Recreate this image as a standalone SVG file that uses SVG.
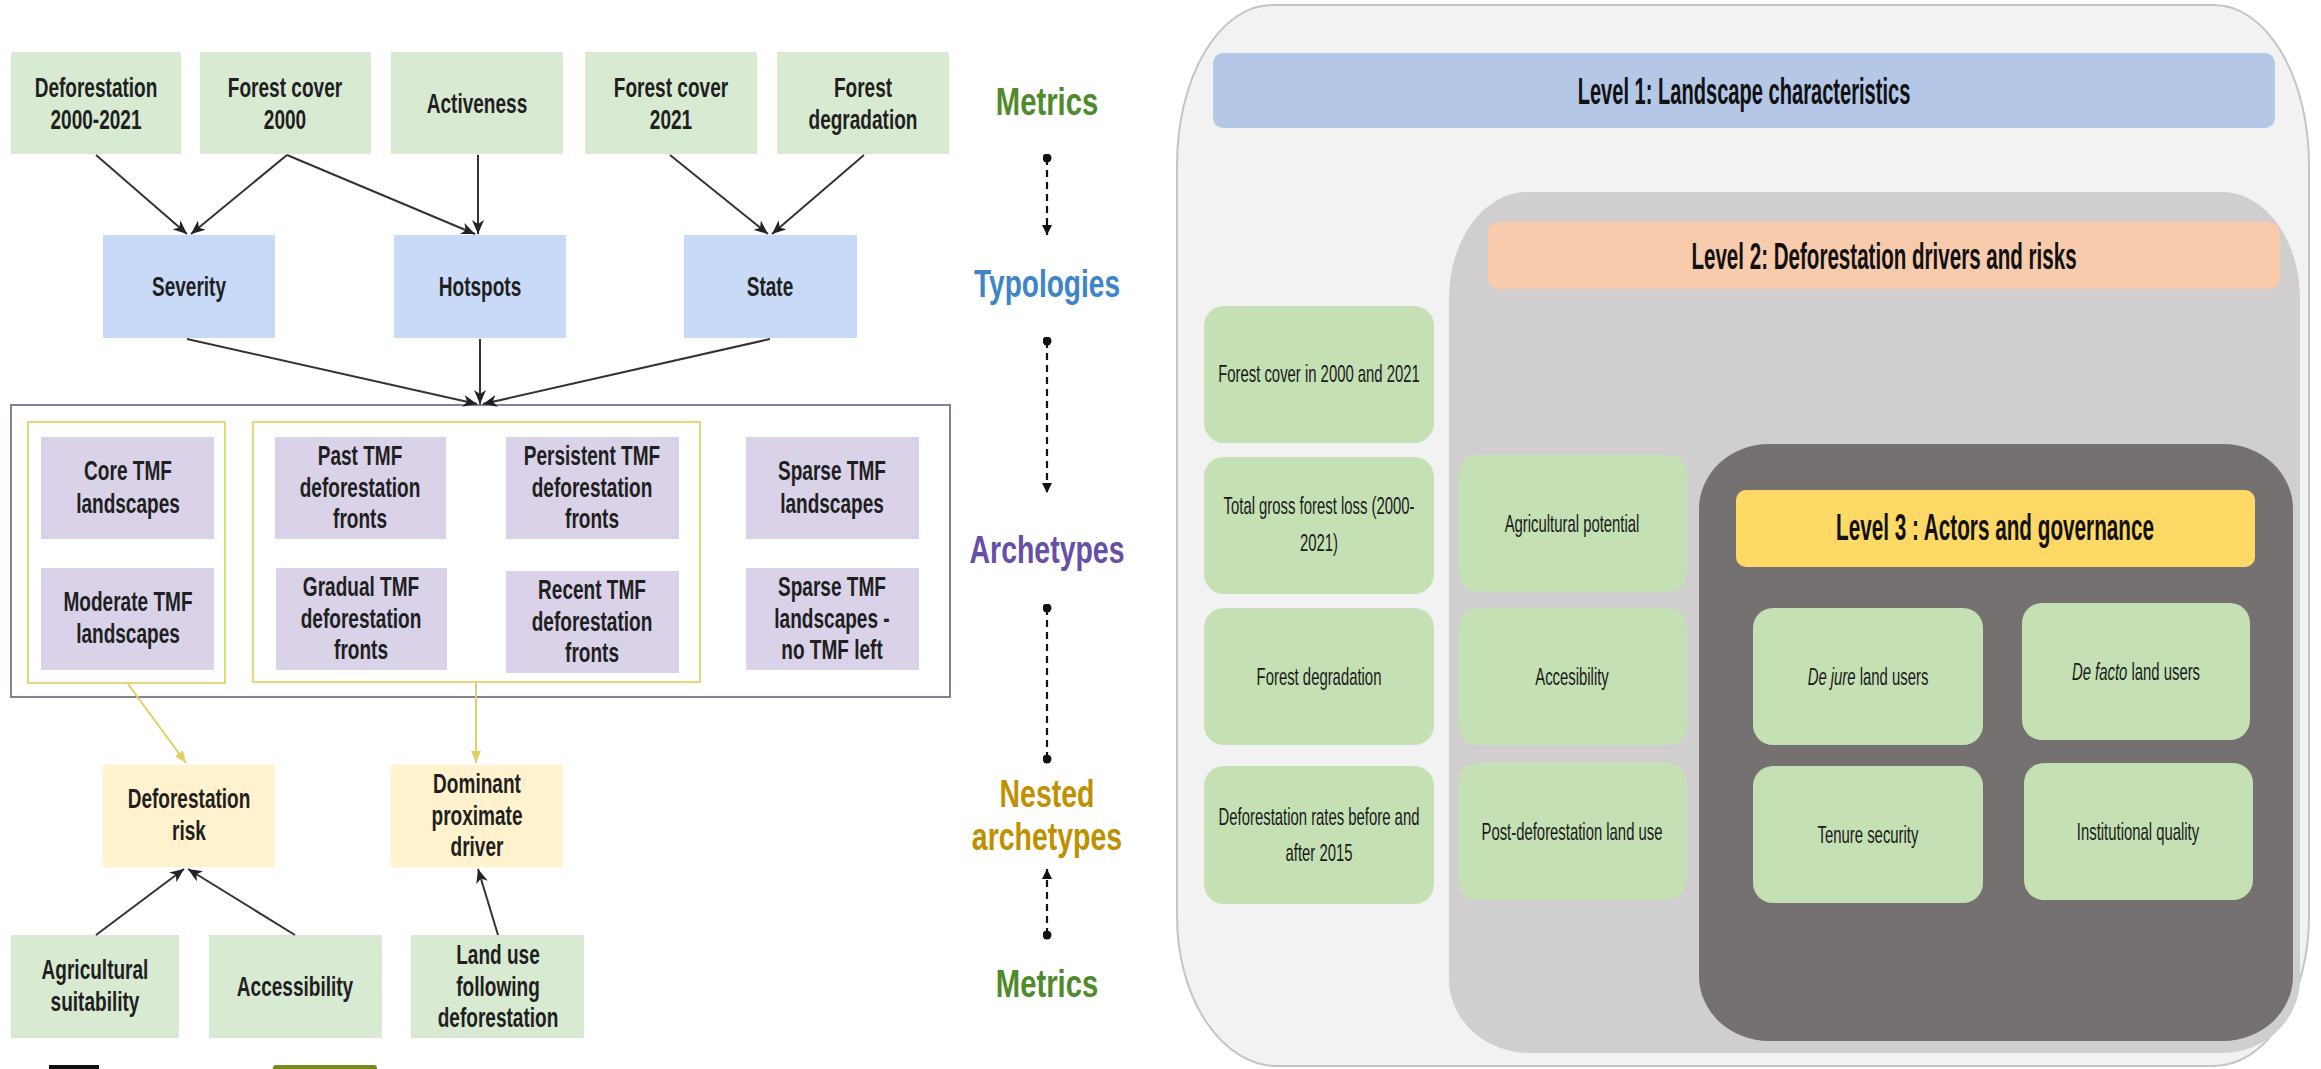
<svg xmlns="http://www.w3.org/2000/svg" width="2321" height="1069" viewBox="0 0 2321 1069">
<defs>
<style>
.bg{fill:#ffffff}
.met{fill:#d9ead3}
.typ{fill:#c9daf8}
.arc{fill:#d9d2e9}
.nst{fill:#fff2cc}
.lt{font-family:"Liberation Sans",Arial,sans-serif;font-weight:bold;font-size:28px;fill:#1f1f1f;text-anchor:middle}
.lab{font-family:"Liberation Sans",Arial,sans-serif;font-weight:bold;font-size:39px;text-anchor:middle}
.con{stroke:#333;stroke-width:2;fill:none;marker-end:url(#ah)}
.ycon{stroke:#e3cf6a;stroke-width:2;fill:none;marker-end:url(#ahy)}
.dash{stroke:#111;stroke-width:2.2;fill:none;stroke-dasharray:7 5}
.rb{fill:#c5e0b4}
.rt{font-family:"Liberation Sans",Arial,sans-serif;font-size:24px;fill:#1a1a1a;text-anchor:middle}
.ht{font-family:"Liberation Sans",Arial,sans-serif;font-weight:bold;font-size:37px;fill:#111;text-anchor:middle}
</style>
<marker id="ah" viewBox="0 0 14 12" refX="14" refY="6" markerWidth="14" markerHeight="12" markerUnits="userSpaceOnUse" orient="auto"><path d="M0,0 L14,6 L0,12 L4,6 z" fill="#222"/></marker>
<marker id="ahy" viewBox="0 0 12 10" refX="12" refY="5" markerWidth="12" markerHeight="10" markerUnits="userSpaceOnUse" orient="auto"><path d="M0,0 L12,5 L0,10 z" fill="#e3cf6a"/></marker>
<marker id="ahd" viewBox="0 0 10 10" refX="10" refY="5" markerWidth="10" markerHeight="10" markerUnits="userSpaceOnUse" orient="auto"><path d="M0,0 L10,5 L0,10 z" fill="#111"/></marker>
<marker id="dot" viewBox="0 0 10 10" refX="5" refY="5" markerWidth="9" markerHeight="9" markerUnits="userSpaceOnUse" orient="auto"><circle cx="5" cy="5" r="5" fill="#111"/></marker>
</defs>
<rect class="bg" x="0" y="0" width="2321" height="1069"/>

<!-- LEFT PANEL -->
<g id="metrics-top">
<g id="n-deforestation"><rect class="met" x="11" y="52" width="170" height="102"/>
<text class="lt" transform="translate(96,97) scale(0.68,1)">Deforestation</text>
<text class="lt" transform="translate(96,129) scale(0.68,1)">2000-2021</text></g>
<g id="n-fc2000"><rect class="met" x="200" y="52" width="171" height="102"/>
<text class="lt" transform="translate(285,97) scale(0.68,1)">Forest cover</text>
<text class="lt" transform="translate(285,129) scale(0.68,1)">2000</text></g>
<g id="n-activeness"><rect class="met" x="391" y="52" width="172" height="102"/>
<text class="lt" transform="translate(477,113) scale(0.68,1)">Activeness</text></g>
<g id="n-fc2021"><rect class="met" x="585" y="52" width="172" height="102"/>
<text class="lt" transform="translate(671,97) scale(0.68,1)">Forest cover</text>
<text class="lt" transform="translate(671,129) scale(0.68,1)">2021</text></g>
<g id="n-fdeg"><rect class="met" x="777" y="52" width="172" height="102"/>
<text class="lt" transform="translate(863,97) scale(0.68,1)">Forest</text>
<text class="lt" transform="translate(863,129) scale(0.68,1)">degradation</text></g>
</g>

<g id="typologies">
<g id="n-severity"><rect class="typ" x="103" y="235" width="172" height="103"/>
<text class="lt" transform="translate(189,296) scale(0.68,1)">Severity</text></g>
<g id="n-hotspots"><rect class="typ" x="394" y="235" width="172" height="103"/>
<text class="lt" transform="translate(480,296) scale(0.68,1)">Hotspots</text></g>
<g id="n-state"><rect class="typ" x="684" y="235" width="173" height="103"/>
<text class="lt" transform="translate(770,296) scale(0.68,1)">State</text></g>
</g>

<g id="archetypes">
<rect x="11" y="405" width="939" height="292" fill="#fff" stroke="#80809a" stroke-width="2"/>
<rect x="28" y="422" width="197" height="261" fill="none" stroke="#e6d77a" stroke-width="2"/>
<rect x="253" y="422" width="447" height="260" fill="none" stroke="#e6d77a" stroke-width="2"/>
<g id="n-core"><rect class="arc" x="41" y="437" width="173" height="102"/>
<text class="lt" transform="translate(128,480) scale(0.68,1)">Core TMF</text>
<text class="lt" transform="translate(128,513) scale(0.68,1)">landscapes</text></g>
<g id="n-moderate"><rect class="arc" x="41" y="568" width="173" height="102"/>
<text class="lt" transform="translate(128,611) scale(0.68,1)">Moderate TMF</text>
<text class="lt" transform="translate(128,643) scale(0.68,1)">landscapes</text></g>
<g id="n-past"><rect class="arc" x="275" y="437" width="171" height="102"/>
<text class="lt" transform="translate(360,465) scale(0.68,1)">Past TMF</text>
<text class="lt" transform="translate(360,497) scale(0.68,1)">deforestation</text>
<text class="lt" transform="translate(360,528) scale(0.68,1)">fronts</text></g>
<g id="n-gradual"><rect class="arc" x="276" y="568" width="171" height="102"/>
<text class="lt" transform="translate(361,596) scale(0.68,1)">Gradual TMF</text>
<text class="lt" transform="translate(361,628) scale(0.68,1)">deforestation</text>
<text class="lt" transform="translate(361,659) scale(0.68,1)">fronts</text></g>
<g id="n-persistent"><rect class="arc" x="506" y="437" width="173" height="102"/>
<text class="lt" transform="translate(592,465) scale(0.68,1)">Persistent TMF</text>
<text class="lt" transform="translate(592,497) scale(0.68,1)">deforestation</text>
<text class="lt" transform="translate(592,528) scale(0.68,1)">fronts</text></g>
<g id="n-recent"><rect class="arc" x="506" y="571" width="173" height="102"/>
<text class="lt" transform="translate(592,599) scale(0.68,1)">Recent TMF</text>
<text class="lt" transform="translate(592,631) scale(0.68,1)">deforestation</text>
<text class="lt" transform="translate(592,662) scale(0.68,1)">fronts</text></g>
<g id="n-sparse"><rect class="arc" x="746" y="437" width="173" height="102"/>
<text class="lt" transform="translate(832,480) scale(0.68,1)">Sparse TMF</text>
<text class="lt" transform="translate(832,513) scale(0.68,1)">landscapes</text></g>
<g id="n-sparse-none"><rect class="arc" x="746" y="568" width="173" height="102"/>
<text class="lt" transform="translate(832,596) scale(0.68,1)">Sparse TMF</text>
<text class="lt" transform="translate(832,628) scale(0.68,1)">landscapes -</text>
<text class="lt" transform="translate(832,659) scale(0.68,1)">no TMF left</text></g>
</g>

<g id="nested">
<g id="n-risk"><rect class="nst" x="103" y="765" width="172" height="102"/>
<text class="lt" transform="translate(189,808) scale(0.68,1)">Deforestation</text>
<text class="lt" transform="translate(189,840) scale(0.68,1)">risk</text></g>
<g id="n-driver"><rect class="nst" x="391" y="765" width="172" height="102"/>
<text class="lt" transform="translate(477,793) scale(0.68,1)">Dominant</text>
<text class="lt" transform="translate(477,825) scale(0.68,1)">proximate</text>
<text class="lt" transform="translate(477,856) scale(0.68,1)">driver</text></g>
</g>

<g id="metrics-bottom">
<g id="n-agri"><rect class="met" x="11" y="935" width="168" height="103"/>
<text class="lt" transform="translate(95,979) scale(0.68,1)">Agricultural</text>
<text class="lt" transform="translate(95,1011) scale(0.68,1)">suitability</text></g>
<g id="n-access"><rect class="met" x="209" y="935" width="173" height="103"/>
<text class="lt" transform="translate(295,996) scale(0.68,1)">Accessibility</text></g>
<g id="n-landuse"><rect class="met" x="411" y="935" width="173" height="103"/>
<text class="lt" transform="translate(498,964) scale(0.68,1)">Land use</text>
<text class="lt" transform="translate(498,996) scale(0.68,1)">following</text>
<text class="lt" transform="translate(498,1027) scale(0.68,1)">deforestation</text></g>
</g>

<g id="connectors">
<line class="con" x1="96" y1="155" x2="187" y2="234"/>
<line class="con" x1="287" y1="155" x2="191" y2="234"/>
<line class="con" x1="287" y1="155" x2="475" y2="234"/>
<line class="con" x1="478" y1="155" x2="478" y2="234"/>
<line class="con" x1="670" y1="155" x2="768" y2="234"/>
<line class="con" x1="864" y1="155" x2="772" y2="234"/>
<line class="con" x1="187" y1="339" x2="477" y2="404"/>
<line class="con" x1="480" y1="339" x2="480" y2="404"/>
<line class="con" x1="770" y1="339" x2="483" y2="404"/>
<line class="ycon" x1="128" y1="684" x2="186" y2="763"/>
<line class="ycon" x1="476" y1="683" x2="476" y2="763"/>
<line class="con" x1="96" y1="935" x2="184" y2="869"/>
<line class="con" x1="295" y1="935" x2="188" y2="869"/>
<line class="con" x1="498" y1="935" x2="478" y2="869"/>
<line class="dash" x1="1047" y1="158" x2="1047" y2="235" marker-start="url(#dot)" marker-end="url(#ahd)"/>
<line class="dash" x1="1047" y1="341" x2="1047" y2="493" marker-start="url(#dot)" marker-end="url(#ahd)"/>
<line class="dash" x1="1047" y1="608" x2="1047" y2="759" marker-start="url(#dot)" marker-end="url(#dot)"/>
<line class="dash" x1="1047" y1="935" x2="1047" y2="869" marker-start="url(#dot)" marker-end="url(#ahd)"/>
</g>

<g id="level-labels">
<text class="lab" fill="#4f8a2b" transform="translate(1047,115) scale(0.75,1)">Metrics</text>
<text class="lab" fill="#3d85c6" transform="translate(1047,297) scale(0.72,1)">Typologies</text>
<text class="lab" fill="#674ea7" transform="translate(1047,563) scale(0.73,1)">Archetypes</text>
<text class="lab" fill="#bf9000" transform="translate(1047,807) scale(0.73,1)">Nested</text>
<text class="lab" fill="#bf9000" transform="translate(1047,850) scale(0.73,1)">archetypes</text>
<text class="lab" fill="#4f8a2b" transform="translate(1047,997) scale(0.75,1)">Metrics</text>
</g>

<g id="logos">
<rect x="49" y="1065" width="50" height="4" fill="#111"/>
<rect x="273" y="1065" width="104" height="6" rx="3" fill="#76891f"/>
</g>

<!-- RIGHT PANEL -->
<g id="level1-panel">
<path d="M1272,5 L2214,5 A95,160 0 0 1 2309,165 L2309,916 A95,150 0 0 1 2214,1066 L1277,1066 A100,150 0 0 1 1177,916 L1177,165 A95,160 0 0 1 1272,5 Z" fill="#f2f2f2" stroke="#c4c4c4" stroke-width="2"/>
<rect x="1213" y="53" width="1062" height="75" rx="10" fill="#b4c7e7"/>
<text class="ht" transform="translate(1744,104) scale(0.543,1)">Level 1: Landscape characteristics</text>
</g>
<g id="r-forestcover"><rect class="rb" x="1204" y="306" width="230" height="137" rx="20"/>
<text class="rt" transform="translate(1319,382) scale(0.62,1)">Forest cover in 2000 and 2021</text></g>
<g id="r-grossloss"><rect class="rb" x="1204" y="457" width="230" height="137" rx="20"/>
<text class="rt" transform="translate(1319,514) scale(0.62,1)">Total gross forest loss (2000-</text>
<text class="rt" transform="translate(1319,551) scale(0.62,1)">2021)</text></g>
<g id="r-fdeg"><rect class="rb" x="1204" y="608" width="230" height="137" rx="20"/>
<text class="rt" transform="translate(1319,685) scale(0.62,1)">Forest degradation</text></g>
<g id="r-rates"><rect class="rb" x="1204" y="766" width="230" height="138" rx="20"/>
<text class="rt" transform="translate(1319,825) scale(0.62,1)">Deforestation rates before and</text>
<text class="rt" transform="translate(1319,861) scale(0.62,1)">after 2015</text></g>

<g id="level2-panel">
<path d="M1527,192 L2222,192 A78,107 0 0 1 2300,299 L2300,979 A78,74 0 0 1 2222,1053 L1529,1053 A80,74 0 0 1 1449,979 L1449,299 A78,107 0 0 1 1527,192 Z" fill="#d0cece"/>
<rect x="1488" y="222" width="792" height="67" rx="10" fill="#f8cbad"/>
<text class="ht" transform="translate(1884,269) scale(0.556,1)">Level 2: Deforestation drivers and risks</text>
</g>
<g id="r-agri"><rect class="rb" x="1458" y="455" width="229" height="137" rx="20"/>
<text class="rt" transform="translate(1572,532) scale(0.62,1)">Agricultural potential</text></g>
<g id="r-access"><rect class="rb" x="1458" y="608" width="229" height="137" rx="20"/>
<text class="rt" transform="translate(1572,685) scale(0.62,1)">Accesibility</text></g>
<g id="r-postdef"><rect class="rb" x="1458" y="763" width="229" height="137" rx="20"/>
<text class="rt" transform="translate(1572,840) scale(0.62,1)">Post-deforestation land use</text></g>

<g id="level3-panel">
<path d="M1769,444 L2223,444 A70,65 0 0 1 2293,509 L2293,976 A70,65 0 0 1 2223,1041 L1769,1041 A70,65 0 0 1 1699,976 L1699,509 A70,65 0 0 1 1769,444 Z" fill="#767171"/>
<rect x="1736" y="490" width="519" height="77" rx="10" fill="#ffd966"/>
<text class="ht" font-size="34" transform="translate(1995,540) scale(0.56,1)">Level 3 : Actors and governance</text>
</g>
<g id="r-dejure"><rect class="rb" x="1753" y="608" width="230" height="137" rx="20"/>
<text class="rt" transform="translate(1868,685) scale(0.62,1)"><tspan font-style="italic">De jure</tspan> land users</text></g>
<g id="r-defacto"><rect class="rb" x="2022" y="603" width="228" height="137" rx="20"/>
<text class="rt" transform="translate(2136,680) scale(0.62,1)"><tspan font-style="italic">De facto</tspan> land users</text></g>
<g id="r-tenure"><rect class="rb" x="1753" y="766" width="230" height="137" rx="20"/>
<text class="rt" transform="translate(1868,843) scale(0.62,1)">Tenure security</text></g>
<g id="r-inst"><rect class="rb" x="2024" y="763" width="229" height="137" rx="20"/>
<text class="rt" transform="translate(2138,840) scale(0.62,1)">Institutional quality</text></g>
</svg>
